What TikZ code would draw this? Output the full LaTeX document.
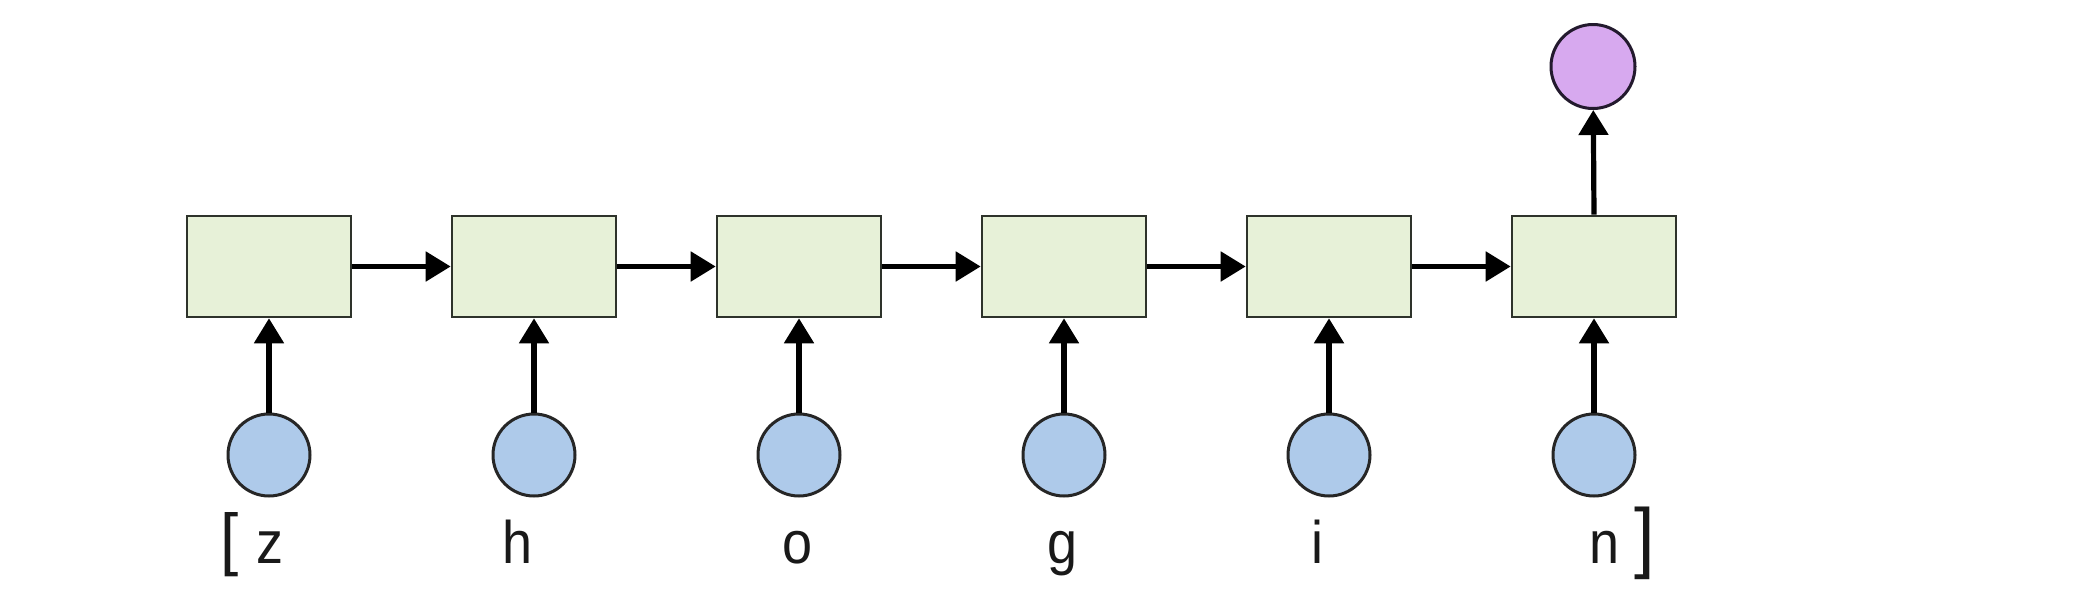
\documentclass[tikz,border=0pt]{standalone}
\usepackage{fontspec}
\setmainfont{Liberation Sans}
\usetikzlibrary{arrows.meta}
\definecolor{boxfill}{HTML}{E7F1D8}
\definecolor{boxline}{HTML}{2E332B}
\definecolor{infill}{HTML}{AECAEA}
\definecolor{outfill}{HTML}{D7A9EF}
\definecolor{outline}{HTML}{231A2E}
\tikzset{
  cell/.style={draw=boxline, fill=boxfill, line width=1.3pt, minimum width=82pt, minimum height=50.5pt, inner sep=0pt},
  inp/.style={circle, draw=black!85, fill=infill, line width=1.5pt, minimum size=41pt, inner sep=0pt},
  outp/.style={circle, draw=outline, fill=outfill, line width=1.5pt, minimum size=42pt, inner sep=0pt},
  flow/.style={line width=2.6pt, -{Triangle[length=12.5pt,width=14.5pt]}},
  lbl/.style={anchor=base, inner sep=0pt, font=\fontsize{30pt}{34pt}\selectfont, text=black!90, xscale=0.9},
  brk/.style={anchor=base, inner sep=0pt, text=black!90, xscale=0.95}
}
\begin{document}
\begin{tikzpicture}[x=0.5pt,y=-0.5pt]
\useasboundingbox[fill=white] (0,0) rectangle (2074,600);
% cells
\node[cell] (c1) at (269,266.5) {};
\node[cell] (c2) at (534,266.5) {};
\node[cell] (c3) at (799,266.5) {};
\node[cell] (c4) at (1064,266.5) {};
\node[cell] (c5) at (1329,266.5) {};
\node[cell] (c6) at (1594,266.5) {};
% inputs
\node[inp] (i1) at (269,455) {};
\node[inp] (i2) at (534,455) {};
\node[inp] (i3) at (799,455) {};
\node[inp] (i4) at (1064,455) {};
\node[inp] (i5) at (1329,455) {};
\node[inp] (i6) at (1594,455) {};
% output
\node[outp] (o) at (1593,66.5) {};
% connectors
\draw[flow] (c1) -- (c2);
\draw[flow] (c2) -- (c3);
\draw[flow] (c3) -- (c4);
\draw[flow] (c4) -- (c5);
\draw[flow] (c5) -- (c6);
\foreach \k in {1,...,6} { \draw[flow] (i\k) -- (c\k); }
\draw[flow] (c6.north) -- (o);
% labels
\node[brk, font=\fontsize{34.5pt}{38pt}\selectfont] (lb) at (229.5,562.5) {[};
\node[lbl] (l1) at (270,563) {z};
\node[lbl] (l2) at (518,563) {h};
\node[lbl] (l3) at (798,563) {o};
\node[lbl] (l4) at (1063,563) {g};
\node[lbl] (l5) at (1317,563) {i};
\node[lbl] (l6) at (1604.5,563) {n};
\node[brk, font=\fontsize{39pt}{42pt}\selectfont] (rb) at (1644.5,563) {]};
\end{tikzpicture}
\end{document}
